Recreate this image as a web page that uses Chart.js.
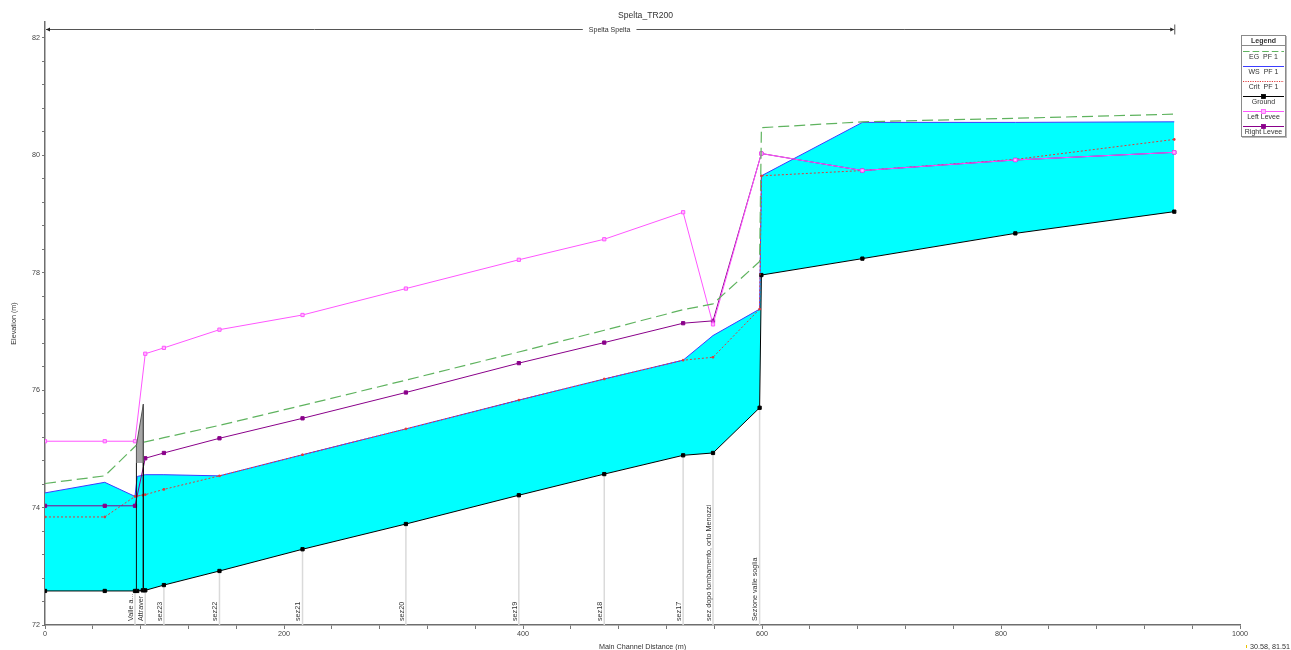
<!DOCTYPE html>
<html><head><meta charset="utf-8">
<script src="https://cdn.jsdelivr.net/npm/chart.js@4.4.1/dist/chart.umd.min.js"></script>
<style>
html,body{margin:0;padding:0;background:#fff;}
#wrap{position:relative;width:1291px;height:650px;overflow:hidden;}
#legend{position:absolute;left:1241px;top:35px;width:43px;border:1px solid #8a8a8a;box-shadow:1px 1px 0 #bbb;background:#fff;font-family:"Liberation Sans",Arial,sans-serif;font-size:7px;color:#333;text-align:center;}
#legend .hdr{font-weight:bold;height:9px;line-height:9px;border-bottom:1px solid #8a8a8a;}
#legend .item{height:15px;position:relative;}
#legend .item svg{position:absolute;left:0;top:2px;}
#legend .item span{position:absolute;left:0;right:0;top:7px;line-height:8px;white-space:nowrap;}
</style></head>
<body>
<div id="wrap">
<canvas id="c" width="1291" height="650"></canvas>
<div id="legend"></div>
</div>
<script>
// ---------- data ----------
const stations   = [0, 50, 75.3, 77.2, 81.8, 83.9, 99.5, 146, 215.5, 302, 396.5, 468, 534, 559, 598, 599.5, 684, 812, 945];
const ground     = [72.58,72.58,72.58,72.58,72.59,72.59,72.68,72.92,73.29,73.72,74.21,74.57,74.89,74.93,75.70,77.96,78.24,78.67,79.04];
const wsPF1      = [74.25,74.43,74.19,74.53,74.55,74.56,74.56,74.54,74.90,75.34,75.83,76.19,76.51,76.93,77.38,79.65,80.56,80.56,80.57];
const critPF1    = [73.84,73.84,74.19,74.20,74.21,74.22,74.31,74.54,74.90,75.34,75.83,76.19,76.51,76.56,77.38,79.65,79.74,79.93,80.27];
const egPF1      = [74.41,74.54,75.04,75.08,75.11,75.12,75.19,75.40,75.74,76.17,76.65,77.02,77.37,77.47,78.19,80.47,80.57,80.63,80.70];
const leftLevee  = [75.13,75.13,75.13,null,null,76.62,76.72,77.03,77.28,77.73,78.22,78.57,79.03,77.12,null,80.03,79.74,79.92,80.05];
const rightLevee = [74.03,74.03,74.03,null,null,74.84,74.93,75.18,75.52,75.96,76.46,76.81,77.14,77.18,null,80.03,79.74,79.92,80.05];

const sectionStations = [75.3, 83.9, 99.5, 146, 215.5, 302, 396.5, 468, 534, 559, 598];
const sectionNames    = ['Valle a...', 'Attraver', 'sez23', 'sez22', 'sez21', 'sez20', 'sez19', 'sez18', 'sez17', 'sez dopo tombamento, orto Menozzi', 'Sezione valle soglia'];

const bridgeDeckX = [76.5, 76.5, 82.3, 82.3];
const bridgeDeckY = [74.76, 75.06, 75.76, 74.76];
const bridgeFaceX = [76.5, 76.5, 79.4, 82.3, 82.3];
const bridgeFaceY = [72.58, 74.76, null, 74.76, 72.59];

const xTickLabels = [0, 200, 400, 600, 800, 1000];
const yTickLabels = [72, 74, 76, 78, 80, 82];
const xMinorStep = 40, yMinorStep = 0.4;

const chartTitle = 'Spelta_TR200';
const reachName = 'Spelta Spelta';
const xTitle = 'Main Channel Distance (m)';
const yTitle = 'Elevation (m)';
const cursorText = '30.58, 81.51';

// ---------- build ----------
const pts = (xs, ys) => xs.map((x, i) => ({x: x, y: ys[i]}));
const FONT = '"Liberation Sans", Arial, sans-serif';

const series = [
  {label:'EG  PF 1', data: egPF1, color:'#5fb35f', dash:[11,5], width:1.2, order:1},
  {label:'WS  PF 1', data: wsPF1, color:'#3c3cff', dash:[], width:1, order:6, fillGround:true},
  {label:'Crit  PF 1', data: critPF1, color:'#e03c3c', dash:[2,2], width:1, order:3, pr:1.1, pbg:'#e03c3c'},
  {label:'Ground', data: ground, color:'#000000', dash:[], width:1, order:4, pr:2.3, pbg:'#000000'},
  {label:'Left Levee', data: leftLevee, color:'#ff55ff', dash:[], width:1, order:2, pr:2.3, pbg:'#ffb8ff'},
  {label:'Right Levee', data: rightLevee, color:'#8a008a', dash:[], width:1, order:2, pr:2.3, pbg:'#8a008a'}
];
const groundIndex = series.findIndex(s => s.label === 'Ground');

const datasets = series.map(s => ({
  label: s.label,
  data: pts(stations, s.data),
  borderColor: s.color,
  borderWidth: s.width,
  borderDash: s.dash,
  pointStyle: 'rect',
  pointRadius: s.pr || 0,
  pointBackgroundColor: s.pbg || s.color,
  pointBorderColor: s.color,
  pointBorderWidth: s.pr ? 1 : 0,
  spanGaps: true,
  tension: 0,
  order: s.order,
  fill: s.fillGround ? groundIndex : false,
  backgroundColor: s.fillGround ? '#00ffff' : s.color
}));
datasets.push({
  label: 'Bridge deck', data: pts(bridgeDeckX, bridgeDeckY), borderColor:'#555', borderWidth:1,
  backgroundColor:'#a6a6a6', fill:'shape', pointRadius:0, tension:0, order:0.5
});
datasets.push({
  label: 'Bridge faces', data: pts(bridgeFaceX, bridgeFaceY), borderColor:'#111', borderWidth:1,
  fill:false, pointRadius:0, tension:0, spanGaps:false, order:0
});

const decor = {
  id: 'decor',
  beforeDatasetsDraw(chart) {
    const {ctx, chartArea, scales:{x, y}} = chart;
    ctx.save();
    sectionStations.forEach((s, i) => {
      const gi = stations.indexOf(s);
      const px = x.getPixelForValue(s);
      const top = y.getPixelForValue(ground[gi]);
      ctx.strokeStyle = '#dadada';
      ctx.lineWidth = 1.5;
      ctx.beginPath(); ctx.moveTo(px, top); ctx.lineTo(px, chartArea.bottom); ctx.stroke();
      ctx.save();
      ctx.translate(px - 0.5, chartArea.bottom - 4);
      ctx.rotate(-Math.PI / 2);
      ctx.font = '7.2px ' + FONT;
      ctx.fillStyle = '#333';
      ctx.textAlign = 'left';
      ctx.textBaseline = 'bottom';
      ctx.fillText(sectionNames[i], 0, 0);
      ctx.restore();
    });
    ctx.restore();
  },
  afterDraw(chart) {
    const {ctx, chartArea, scales:{x, y}} = chart;
    ctx.save();
    // title
    ctx.font = '8.6px ' + FONT;
    ctx.fillStyle = '#333';
    ctx.textAlign = 'center';
    ctx.textBaseline = 'middle';
    ctx.fillText(chartTitle, chart.width / 2, 16);
    // reach line
    const x0 = x.getPixelForValue(stations[0]);
    const x1 = x.getPixelForValue(stations[stations.length - 1]);
    const ry = chartArea.top + 7.5;
    const mid = (x0 + x1) / 2;
    ctx.font = '7px ' + FONT;
    const tw = ctx.measureText(reachName).width;
    ctx.strokeStyle = '#555';
    ctx.lineWidth = 1;
    ctx.beginPath();
    ctx.moveTo(x0 + 1, ry); ctx.lineTo(mid - tw / 2 - 6, ry);
    ctx.moveTo(mid + tw / 2 + 6, ry); ctx.lineTo(x1 - 1, ry);
    ctx.moveTo(x1 + 0.5, ry - 5); ctx.lineTo(x1 + 0.5, ry + 5);
    ctx.stroke();
    ctx.fillStyle = '#222';
    ctx.beginPath(); ctx.moveTo(x0 + 1, ry); ctx.lineTo(x0 + 5, ry - 2); ctx.lineTo(x0 + 5, ry + 2); ctx.closePath(); ctx.fill();
    ctx.beginPath(); ctx.moveTo(x1, ry); ctx.lineTo(x1 - 4, ry - 2); ctx.lineTo(x1 - 4, ry + 2); ctx.closePath(); ctx.fill();
    ctx.fillStyle = '#333';
    ctx.fillText(reachName, mid, ry + 1);
    // axis titles
    ctx.font = '7.2px ' + FONT;
    ctx.fillText(xTitle, (chartArea.left + chartArea.right) / 2, 647);
    ctx.save();
    ctx.translate(14, (chartArea.top + chartArea.bottom) / 2);
    ctx.rotate(-Math.PI / 2);
    ctx.fillText(yTitle, 0, 0);
    ctx.restore();
    // cursor readout
    ctx.textAlign = 'right';
    ctx.fillText(cursorText, 1290, 647);
    ctx.fillStyle = '#e8c000';
    ctx.fillRect(1246, 645, 1, 3);
    ctx.restore();
  }
};

const isLabel = (v, arr) => arr.some(a => Math.abs(a - v) < 1e-6);

new Chart(document.getElementById('c'), {
  type: 'line',
  data: { datasets: datasets },
  options: {
    responsive: false,
    animation: false,
    devicePixelRatio: 1,
    layout: { padding: { top: 22, right: 51, left: 0, bottom: 0 } },
    plugins: { legend: { display: false }, tooltip: { enabled: false }, title: { display: false } },
    scales: {
      x: {
        type: 'linear', min: 0, max: 1000,
        afterBuildTicks: s => {
          const t = [];
          for (let i = 0; i * xMinorStep <= 1000 + 1e-9; i++) t.push({ value: i * xMinorStep });
          s.ticks = t;
        },
        ticks: {
          autoSkip: false, maxRotation: 0, padding: 1, color: '#444',
          font: { family: FONT, size: 7.2 },
          callback: v => isLabel(v, xTickLabels) ? String(v) : ''
        },
        grid: { drawOnChartArea: false, drawTicks: true, tickLength: 4, color: '#777' },
        border: { color: '#6e6e6e', width: 1.5 },
        afterFit: s => { s.height = 25; }
      },
      y: {
        type: 'linear', min: 72, max: 82.27,
        afterBuildTicks: s => {
          const t = [];
          for (let i = 0; 72 + i * yMinorStep <= 82 + 1e-9; i++) t.push({ value: +(72 + i * yMinorStep).toFixed(2) });
          s.ticks = t;
        },
        ticks: {
          autoSkip: false, padding: 2, color: '#444',
          font: { family: FONT, size: 7.2 },
          callback: v => isLabel(v, yTickLabels) ? String(v) : ''
        },
        grid: { drawOnChartArea: false, drawTicks: true, tickLength: 3, color: '#777' },
        border: { color: '#6e6e6e', width: 1.5 },
        afterFit: s => { s.width = 45; }
      }
    }
  },
  plugins: [decor]
});

// HTML legend built from the series
const lg = document.getElementById('legend');
let html = '<div class="hdr">Legend</div>';
series.forEach(s => {
  const dash = s.dash.length ? ` stroke-dasharray="${s.dash.map(d => Math.max(1, d * 0.6)).join(',')}"` : '';
  const mk = s.label === 'Ground' || s.label.indexOf('Levee') >= 0
    ? `<rect x="19.5" y="1.5" width="4" height="4" fill="${s.pbg}" stroke="${s.color}" stroke-width="0.8"/>` : '';
  html += `<div class="item"><svg width="43" height="7"><line x1="1" y1="3.5" x2="42" y2="3.5" stroke="${s.color}" stroke-width="1"${dash}/>${mk}</svg><span>${s.label.replace(/ /g, '&nbsp;')}</span></div>`;
});
lg.innerHTML = html;
</script>
</body></html>
